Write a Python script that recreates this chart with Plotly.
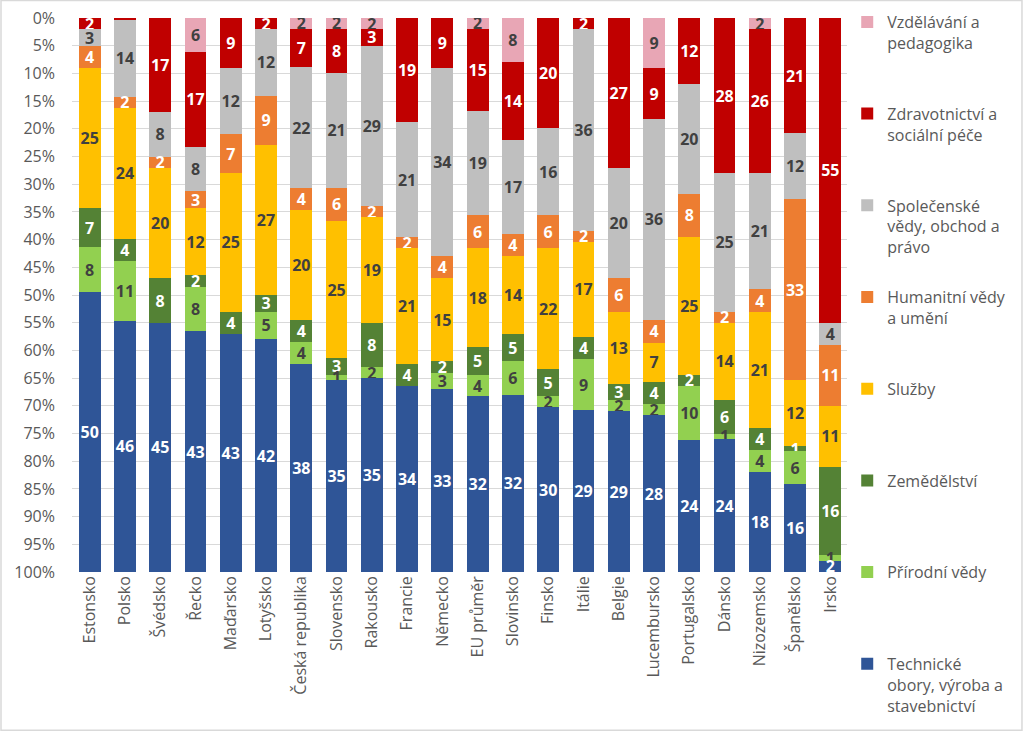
import plotly.graph_objects as go

countries = ["Estonsko", "Polsko", "Švédsko", "Řecko", "Maďarsko", "Lotyšsko",
             "Česká republika", "Slovensko", "Rakousko", "Francie", "Německo",
             "EU průměr", "Slovinsko", "Finsko", "Itálie", "Belgie", "Lucembursko",
             "Portugalsko", "Dánsko", "Nizozemsko", "Španělsko", "Irsko"]

vzdelavani    = [0, 0, 0, 6, 0, 0, 2, 2, 2, 0, 0, 2, 8, 0, 0, 0, 9, 0, 0, 2, 0, 0]
zdravotnictvi = [2, 0.4, 17, 17, 9, 2, 7, 8, 3, 19, 9, 15, 14, 20, 2, 27, 9, 12, 28, 26, 21, 55]
spolecenske   = [3, 14, 8, 8, 12, 12, 22, 21, 29, 21, 34, 19, 17, 16, 36, 20, 36, 20, 25, 21, 12, 4]
humanitni     = [4, 2, 2, 3, 7, 9, 4, 6, 2, 2, 4, 6, 4, 6, 2, 6, 4, 8, 2, 4, 33, 11]
sluzby        = [25, 24, 20, 12, 25, 27, 20, 25, 19, 21, 15, 18, 14, 22, 17, 13, 7, 25, 14, 21, 12, 11]
zemedelstvi   = [7, 4, 8, 2, 4, 3, 4, 3, 8, 4, 2, 5, 5, 5, 4, 3, 4, 2, 6, 4, 1, 16]
prirodni      = [8, 11, 0, 8, 0, 5, 4, 1, 2, 0, 3, 4, 6, 2, 9, 2, 2, 10, 1, 4, 6, 1]
technicke     = [50, 46, 45, 43, 43, 42, 38, 35, 35, 34, 33, 32, 32, 30, 29, 29, 28, 24, 24, 18, 16, 2]

series = [
    ("Vzdělávání a<br>pedagogika", vzdelavani, "#E8A6B5", "#404040"),
    ("Zdravotnictví a<br>sociální péče", zdravotnictvi, "#C00000", "white"),
    ("Společenské<br>vědy, obchod a<br>právo", spolecenske, "#BFBFBF", "#404040"),
    ("Humanitní vědy<br>a umění", humanitni, "#ED7D31", "white"),
    ("Služby", sluzby, "#FFC000", "#404040"),
    ("Zemědělství", zemedelstvi, "#548235", "white"),
    ("Přírodní vědy", prirodni, "#92D050", "#404040"),
    ("Technické<br>obory, výroba a<br>stavebnictví", technicke, "#2F5597", "white"),
]

fig = go.Figure()
for i, (name, vals, color, tcolor) in enumerate(series):
    lines = name.count("<br>") + 1
    label = name + "<br>\u00a0" * (3 - lines)
    fig.add_trace(go.Bar(
        x=countries, y=vals, name=label, legendgroup=f"g{i}",
        marker=dict(color=color, line=dict(width=0)),
        text=[f"{v:.0f}" if v >= 0.5 else "" for v in vals],
        textposition="inside", insidetextanchor="middle", textangle=0,
        insidetextfont=dict(family="Open Sans", size=16, color=tcolor, weight="bold"),
        constraintext="none", hoverinfo="skip",
    ))

fig.update_layout(
    barmode="stack", barnorm="percent", bargap=0.38,
    width=1024, height=732,
    margin=dict(l=72, r=176, t=18, b=160, autoexpand=False),
    paper_bgcolor="white", plot_bgcolor="white",
    font=dict(family="Open Sans", size=16, color="#595959"),
    uniformtext=dict(minsize=16, mode="show"),
    legend=dict(
        x=0.999, y=1.0235, xanchor="left", yanchor="top",
        traceorder="grouped", tracegroupgap=26.3, valign="top",
        maxheight=730,
        font=dict(family="Open Sans", size=16, color="#595959"),
    ),
    yaxis=dict(range=[100, 0], dtick=5, ticksuffix="%", showgrid=True,
               gridcolor="#D9D9D9", gridwidth=1, zeroline=False,
               ticklabelstandoff=16, tickfont=dict(size=16, color="#595959")),
    xaxis=dict(tickangle=-90, showline=False, tickfont=dict(size=16, color="#595959")),
    shapes=[dict(type="rect", xref="paper", yref="paper",
                 x0=-0.0915, x1=1.2242, y0=-0.2855, y1=1.0316,
                 line=dict(color="#D9D9D9", width=1.5), layer="below")],
)

fig.write_html("out.html", config={"displayModeBar": False},
               post_script="document.body.style.margin='0';document.body.style.overflow='hidden';")
